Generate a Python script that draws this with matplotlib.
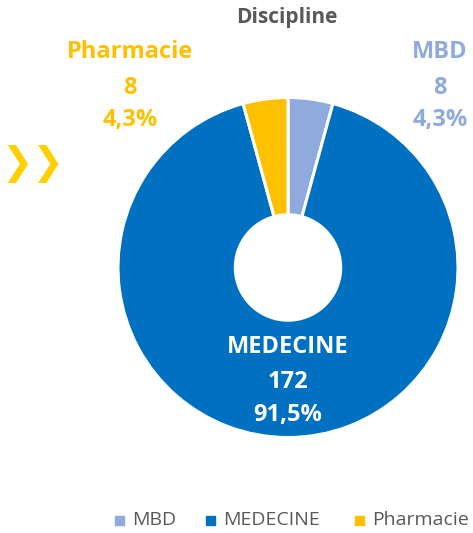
import matplotlib
matplotlib.use('Agg')
import matplotlib.pyplot as plt
from matplotlib.patches import Rectangle

# data
categories = ['MBD', 'MEDECINE', 'Pharmacie']
counts     = [8, 172, 8]
percents   = ['4,3%', '91,5%', '4,3%']
colors     = ['#8FAADC', '#0070C0', '#FFC000']

plt.rcParams['font.family'] = ['Open Sans', 'DejaVu Sans']

W, H = 473, 533
fig = plt.figure(figsize=(W / 100, H / 100), dpi=100)

# pie axes: center (288, 267) px, radius 170 px
cx, cy, r = 288, 267.5, 170
ax = fig.add_axes([(cx - r) / W, (H - cy - r) / H, 2 * r / W, 2 * r / H])
ax.pie(counts, colors=colors, startangle=90, counterclock=False, radius=1,
       wedgeprops=dict(width=0.69, edgecolor='white', linewidth=2.2))
ax.set_aspect('equal')
ax.set_xlim(-1, 1); ax.set_ylim(-1, 1)
ax.axis('off')

fig.text(287 / W, 1 - 18 / H, 'Discipline', ha='center', va='center',
         fontsize=15, fontweight='bold', color='#595959')

# data labels
label_pos = {
    'MBD':       (440, [52, 88, 120], colors[0]),
    'MEDECINE':  (288, [347, 382, 415], 'white'),
    'Pharmacie': (130, [52, 88, 120], colors[2]),
}
for cat, n, pct in zip(categories, counts, percents):
    x, ys, col = label_pos[cat]
    for y, s in zip(ys, [cat, str(n), pct]):
        fig.text(x / W, 1 - y / H, s, ha='center', va='center',
                 fontsize=17, fontweight='bold', color=col)

# chevrons at left
fig.text(33 / W, 1 - 164 / H, '❯❯', ha='center', va='center',
         fontsize=27, color='#FFD000', family=['DejaVu Sans'])

# legend
leg_items = [(115, 'MBD'), (206, 'MEDECINE'), (355, 'Pharmacie')]
for (x, cat), col in zip(leg_items, colors):
    fig.patches.append(Rectangle((x / W, (H - 525) / H), 9 / W, 9 / H,
                                 transform=fig.transFigure, color=col))
    fig.text((x + 17) / W, 1 - 520 / H, cat, ha='left', va='center',
             fontsize=14, color='#595959')

fig.savefig('out.png', dpi=100)
